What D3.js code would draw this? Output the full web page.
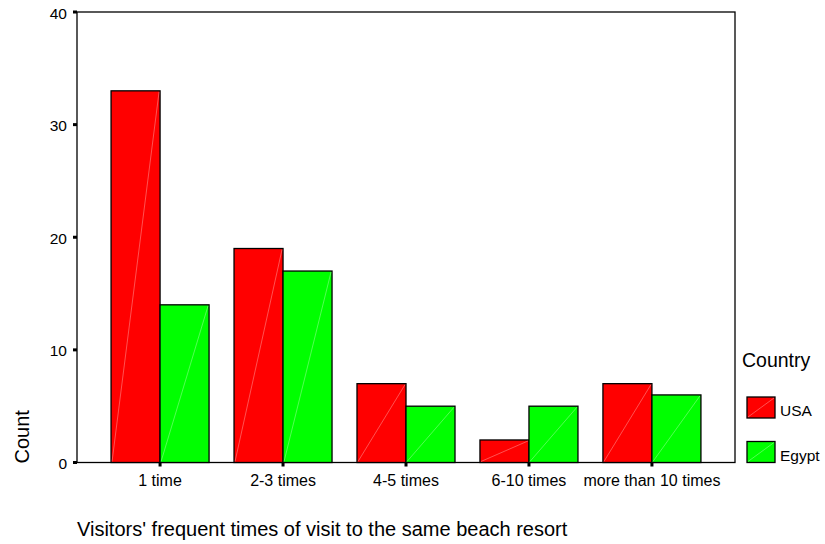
<!DOCTYPE html>
<html>
<head>
<meta charset="utf-8">
<script src="https://cdn.jsdelivr.net/npm/d3@7"></script>
<style>
  body { margin: 0; background: #fff; }
  text { font-family: "Liberation Sans", Arial, sans-serif; fill: #000; }
</style>
</head>
<body>
<svg id="chart" width="825" height="544"></svg>
<script>
// data
var categories = ["1 time", "2-3 times", "4-5 times", "6-10 times", "more than 10 times"];
var countries = ["USA", "Egypt"];
var usaCounts = [33, 19, 7, 2, 7];
var egyptCounts = [14, 17, 5, 5, 6];
var yTicks = [0, 10, 20, 30, 40];
var colors = ["#ff0000", "#00ff00"];

var svg = d3.select("#chart");

// plot frame (avoid "top" - it's a window global)
var plotLeft = 77, plotRight = 735, plotTop = 12, plotBottom = 462.5;

var x = d3.scaleBand()
    .domain(categories)
    .range([plotLeft, plotRight])
    .paddingInner(0.203)
    .paddingOuter(0.277);

var xInner = d3.scaleBand()
    .domain(countries)
    .range([0, x.bandwidth()]);

var y = d3.scaleLinear()
    .domain([0, 40])
    .range([plotBottom, plotTop]);

var color = d3.scaleOrdinal().domain(countries).range(colors);

var rows = categories.map(function(c, i) {
  return { cat: c, values: [usaCounts[i], egyptCounts[i]] };
});

// frame
svg.append("rect")
    .attr("x", plotLeft)
    .attr("y", plotTop)
    .attr("width", plotRight - plotLeft)
    .attr("height", plotBottom - plotTop)
    .attr("fill", "none")
    .attr("stroke", "#000")
    .attr("stroke-width", 1.3);

// bars
var group = svg.selectAll("g.cat")
  .data(rows)
  .enter().append("g")
    .attr("class", "cat")
    .attr("transform", function(d) { return "translate(" + x(d.cat) + ",0)"; });

var bar = group.selectAll("g.bar")
  .data(function(d) {
    return countries.map(function(k, j) { return { key: k, value: d.values[j] }; });
  })
  .enter().append("g")
    .attr("class", "bar");

bar.append("rect")
    .attr("x", function(d) { return xInner(d.key); })
    .attr("y", function(d) { return y(d.value); })
    .attr("width", xInner.bandwidth())
    .attr("height", function(d) { return y(0) - y(d.value); })
    .attr("fill", function(d) { return color(d.key); })
    .attr("stroke", "#000")
    .attr("stroke-width", 1.3);

// faint diagonal line in each bar
bar.append("line")
    .attr("x1", function(d) { return xInner(d.key) + 1; })
    .attr("y1", y(0) - 1)
    .attr("x2", function(d) { return xInner(d.key) + xInner.bandwidth() - 1; })
    .attr("y2", function(d) { return y(d.value) + 1; })
    .attr("stroke", "#ffffff")
    .attr("stroke-opacity", 0.4)
    .attr("stroke-width", 0.8);

// y axis ticks
var yAxis = svg.append("g");
yAxis.selectAll("rect")
  .data(yTicks)
  .enter().append("rect")
    .attr("x", plotLeft - 4)
    .attr("y", function(d) { return y(d) - 1.5; })
    .attr("width", 4)
    .attr("height", 3)
    .attr("fill", "#000");
yAxis.selectAll("text")
  .data(yTicks)
  .enter().append("text")
    .attr("x", plotLeft - 10)
    .attr("y", function(d) { return y(d) + 6.5; })
    .attr("text-anchor", "end")
    .style("font-size", "15.5px")
    .text(function(d) { return d; });

// x axis ticks
var xAxis = svg.append("g");
xAxis.selectAll("rect")
  .data(categories)
  .enter().append("rect")
    .attr("x", function(d) { return x(d) + x.bandwidth() / 2 - 1.5; })
    .attr("y", plotBottom)
    .attr("width", 3)
    .attr("height", 4)
    .attr("fill", "#000");
xAxis.selectAll("text")
  .data(categories)
  .enter().append("text")
    .attr("x", function(d) { return x(d) + x.bandwidth() / 2; })
    .attr("y", plotBottom + 23)
    .attr("text-anchor", "middle")
    .style("font-size", "16px")
    .text(function(d) { return d; });

// axis titles
svg.append("text")
    .attr("transform", "translate(29," + (plotBottom + 1) + ") rotate(-90)")
    .attr("text-anchor", "start")
    .style("font-size", "20px")
    .text("Count");

svg.append("text")
    .attr("x", 77)
    .attr("y", 536)
    .style("font-size", "20px")
    .text("Visitors' frequent times of visit to the same beach resort");

// legend
var legend = svg.append("g");
legend.append("text")
    .attr("x", 742)
    .attr("y", 366.5)
    .style("font-size", "19.5px")
    .text("Country");

var item = legend.selectAll("g.item")
  .data(countries)
  .enter().append("g")
    .attr("class", "item")
    .attr("transform", function(d, i) { return "translate(747," + (397 + i * 44.5) + ")"; });

item.append("rect")
    .attr("width", 28)
    .attr("height", 21)
    .attr("fill", function(d) { return color(d); })
    .attr("stroke", "#000")
    .attr("stroke-width", 1.3);
item.append("line")
    .attr("x1", 1).attr("y1", 20)
    .attr("x2", 27).attr("y2", 1)
    .attr("stroke", "#fff")
    .attr("stroke-opacity", 0.4)
    .attr("stroke-width", 0.8);
item.append("text")
    .attr("x", 33)
    .attr("y", 19)
    .style("font-size", "15.5px")
    .text(function(d) { return d; });
</script>
</body>
</html>
